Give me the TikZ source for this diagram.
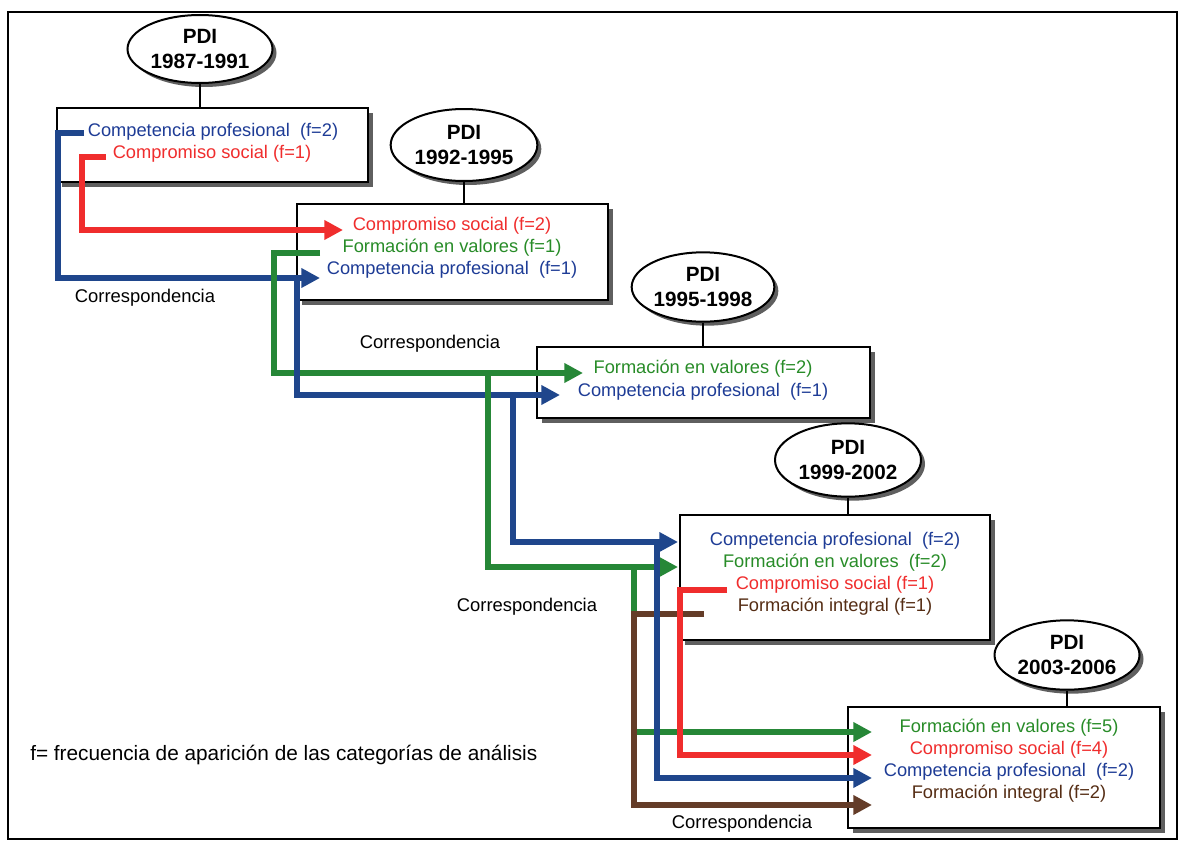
\documentclass[tikz,border=0pt]{standalone}
\usepackage{fontspec}
\setmainfont{Liberation Sans}
\usetikzlibrary{arrows.meta,shapes.geometric,shadows}
\definecolor{cblue}{RGB}{31,70,140}
\definecolor{cred}{RGB}{240,45,45}
\definecolor{cgreen}{RGB}{38,135,55}
\definecolor{cbrown}{RGB}{100,60,40}
\definecolor{tblue}{RGB}{30,60,150}
\definecolor{tgreen}{RGB}{40,140,40}
\definecolor{tbrown}{RGB}{85,45,20}
\definecolor{shade}{RGB}{95,95,95}
\begin{document}
\begin{tikzpicture}[x=0.75pt,y=-0.75pt,
  box/.style={draw=black,line width=1.5pt,fill=white,rectangle,inner sep=0pt,
    general shadow={fill=shade,shadow xshift=3.5pt,shadow yshift=-3.5pt}},
  pdi/.style={draw=black,line width=1.5pt,fill=white,ellipse,inner sep=0pt,align=center,
    font=\bfseries\fontsize{15.5pt}{18.75pt}\selectfont,
    general shadow={fill=shade,shadow xshift=3pt,shadow yshift=-3pt}},
  txt/.style={inner sep=0pt,font=\fontsize{13.7pt}{16pt}\selectfont},
  corr/.style={inner sep=0pt,font=\fontsize{13.8pt}{16pt}\selectfont},
  stem/.style={line width=1.5pt,draw=black},
  cn/.style={line width=4.1pt,line join=miter,-{Triangle[length=14pt,width=14pt]}},
  cnb/.style={cn,draw=cblue},
  cnr/.style={cn,draw=cred},
  cng/.style={cn,draw=cgreen},
  cnn/.style={cn,draw=cbrown}]
\useasboundingbox (0,0) rectangle (1181,842);
\draw[line width=1.5pt] (8,12) rectangle (1177,839);

% boxes
\node[box,minimum width=233.25pt,minimum height=55.5pt] (b1) at (212.5,145) {};
\node[box,minimum width=233.25pt,minimum height=72pt] (b2) at (452.5,252) {};
\node[box,minimum width=249.75pt,minimum height=53.25pt] (b3) at (703.5,382.5) {};
\node[box,minimum width=232.5pt,minimum height=93.75pt] (b4) at (835,577.5) {};
\node[box,minimum width=234pt,minimum height=90.75pt] (b5) at (1004,767.5) {};

% ellipses
\node[pdi,minimum width=108.75pt,minimum height=51pt] (e1) at (200,49) {PDI\\1987-1991};
\node[pdi,minimum width=110pt,minimum height=54pt] (e2) at (464,145) {PDI\\1992-1995};
\node[pdi,minimum width=107pt,minimum height=52pt] (e3) at (703,287) {PDI\\1995-1998};
\node[pdi,minimum width=109.5pt,minimum height=55pt] (e4) at (848,460) {PDI\\1999-2002};
\node[pdi,minimum width=108.75pt,minimum height=52pt] (e5) at (1067,655) {PDI\\2003-2006};

\draw[stem] (e1.south) -- (e1.south |- b1.north);
\draw[stem] (e2.south) -- (e2.south |- b2.north);
\draw[stem] (e3.south) -- (e3.south |- b3.north);
\draw[stem] (e4.south) -- (e4.south |- b4.north);
\draw[stem] (e5.south) -- (e5.south |- b5.north);

% texts
\node[txt,text=tblue] (t11) at (213,132) {Competencia profesional\ \ (f=2)};
\node[txt,text=cred] (t12) at (212,154) {Compromiso social (f=1)};
\node[txt,text=cred] (t21) at (452,226) {Compromiso social (f=2)};
\node[txt,text=tgreen] (t22) at (452,248) {Formación en valores (f=1)};
\node[txt,text=tblue] (t23) at (452,270) {Competencia profesional\ \ (f=1)};
\node[txt,text=tgreen] (t31) at (703,369) {Formación en valores (f=2)};
\node[txt,text=tblue] (t32) at (703,392) {Competencia profesional\ \ (f=1)};
\node[txt,text=tblue] (t41) at (835,541) {Competencia profesional\ \ (f=2)};
\node[txt,text=tgreen] (t42) at (835,563) {Formación en valores\ \ (f=2)};
\node[txt,text=cred] (t43) at (835,585) {Compromiso social (f=1)};
\node[txt,text=tbrown] (t44) at (835,607) {Formación integral (f=1)};
\node[txt,text=tgreen] (t51) at (1009,728) {Formación en valores (f=5)};
\node[txt,text=cred] (t52) at (1009,750) {Compromiso social (f=4)};
\node[txt,text=tblue] (t53) at (1009,772) {Competencia profesional\ \ (f=2)};
\node[txt,text=tbrown] (t54) at (1009,794) {Formación integral (f=2)};

\node[corr] (c1) at (145,298) {Correspondencia};
\node[corr] (c2) at (430,344) {Correspondencia};
\node[corr] (c3) at (527,607) {Correspondencia};
\node[corr] (c4) at (742,824) {Correspondencia};
\node[inner sep=0pt,anchor=west,font=\fontsize{15.6pt}{18pt}\selectfont] (leg) at (30,755)
  {f= frecuencia de aparición de las categorías de análisis};

% connector end points
\coordinate (rA0) at (106,157); \coordinate (rA1) at (343,230);
\coordinate (bA0) at (84,133);  \coordinate (bA1) at (320,278);
\coordinate (gB0) at (320,253); \coordinate (gB1) at (583,373);
\coordinate (bB0) at (297,278); \coordinate (bB1) at (560,395);
\coordinate (gC0) at (488,373); \coordinate (gC1) at (678,567);
\coordinate (bC0) at (513,395); \coordinate (bC1) at (678,542);
\coordinate (gD0) at (634,567); \coordinate (gD1) at (872,732);
\coordinate (bD0) at (657,542); \coordinate (bD1) at (872,778);
\coordinate (rD0) at (727,590); \coordinate (rD1) at (872,755);
\coordinate (nD0) at (704,614); \coordinate (nD1) at (872,805);

% connectors
\draw[cnr] (rA0) -- (82,157) |- (rA1);
\draw[cnb] (bA0) -- (58,133) |- (bA1);
\draw[cng] (gB0) -- (274,253) |- (gB1);
\draw[cnb] (bB0) |- (bB1);
\draw[cng] (gC0) |- (gC1);
\draw[cnb] (bC0) |- (bC1);
\draw[cng] (gD0) |- (gD1);
\draw[cnn] (nD0) -- (634,614) |- (nD1);
\draw[cnb] (bD0) |- (bD1);
\draw[cnr] (rD0) -- (680,590) |- (rD1);
\end{tikzpicture}
\end{document}
